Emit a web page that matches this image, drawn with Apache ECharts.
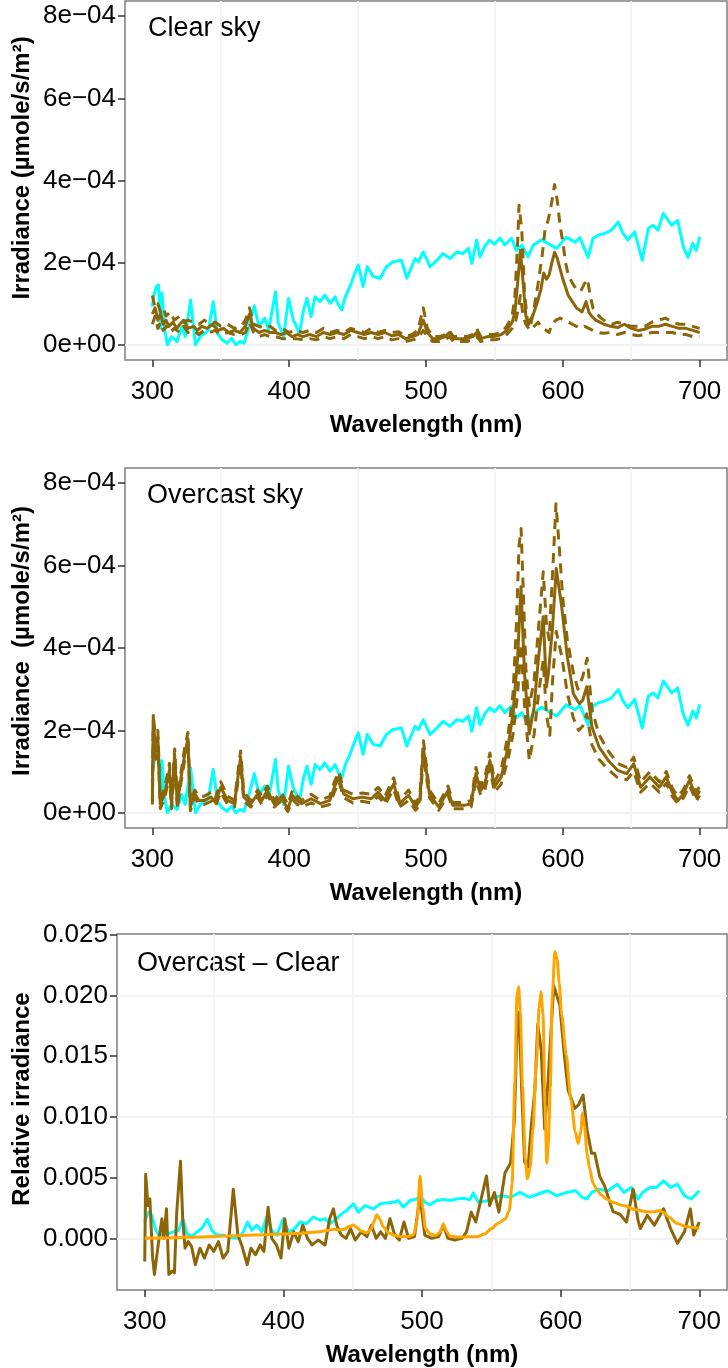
<!DOCTYPE html>
<html>
<head>
<meta charset="utf-8">
<script src="https://cdn.jsdelivr.net/npm/echarts@6/dist/echarts.min.js"></script>
<style>
  html, body { margin: 0; padding: 0; background: #ffffff; }
  #chart { width: 728px; height: 1368px; }
</style>
</head>
<body>
<div id="chart"></div>
<script>
// ---------------- DATA ----------------
// x: wavelength (nm). Irradiance values in units of 1e-4 µmole/s/m², relative values in units of 1e-3.
const xTicks = [300, 400, 500, 600, 700];
const irrTicks = [0, 2e-4, 4e-4, 6e-4, 8e-4];
const relTicks = [0, 0.005, 0.010, 0.015, 0.020, 0.025];
const IRR_UNIT = 1e-4;
const REL_UNIT = 1e-3;

// sky reference spectrum (cyan), panels 1 and 2
const skyRef = [[300,0.93],[301,1.2],[303,1.42],[304.5,1.46],[306,0.4],[307,1.26],[309,0.36],[311,0],[314,0.2],[318,0.08],[321.5,0.44],[324,0.2],[328,1.09],[331.5,0],[335,0.2],[338.5,0.28],[341,0.36],[344.5,1.05],[347.5,0.28],[351,0.12],[354.5,0.04],[358,0.16],[361,0],[364,0.08],[367,0.04],[370,0.36],[374.5,0.95],[378,0.44],[382,0.65],[385,0.36],[390,1.29],[392,0.53],[396,0.2],[399.5,1.13],[403,0.61],[407.5,0.28],[410.5,0.85],[413,1.13],[416,0.69],[419,1.17],[422.5,1.05],[426,1.21],[430,1.01],[433.5,1.17],[436,0.97],[438.5,0.85],[441,1.17],[444.5,1.42],[448,1.74],[450.5,1.94],[454,1.42],[457,1.9],[461.5,1.66],[466.5,1.62],[471,1.9],[476,2.02],[482,2.06],[486,1.62],[492,2.1],[494.5,2.02],[498,2.26],[503,1.9],[508,2.06],[512.5,2.22],[517.5,2.1],[522.5,2.26],[527,2.22],[531,2.35],[533.5,1.98],[537,2.55],[539.5,2.14],[543,2.4],[546.5,2.55],[550,2.45],[554,2.6],[557.5,2.43],[562.5,2.59],[566,2.3],[570,2.43],[574.5,2.14],[578.5,2.43],[584.5,2.56],[589,2.47],[595.5,2.35],[602.5,2.62],[609,2.5],[612.5,2.61],[618.5,2.13],[622,2.59],[626,2.67],[630.5,2.71],[635.5,2.79],[640.5,2.99],[644,2.71],[647.5,2.55],[652.5,2.75],[658,2.06],[662.5,2.83],[666,2.91],[669.5,2.79],[673.5,3.2],[679.5,2.91],[684,3.03],[688,2.39],[691.5,2.13],[695,2.47],[697.5,2.3],[700,2.63]];

// Clear sky: mean (solid), upper and lower (dashed)
const clearMean = [[300,0.75],[302,0.9],[304,0.6],[306,0.75],[308,0.5],[310,0.6],[312,0.45],[315,0.55],[318,0.4],[320,0.5],[323,0.6],[326,0.4],[330,0.45],[333,0.35],[336,0.45],[340,0.4],[344,0.5],[348,0.35],[352,0.4],[356,0.3],[360,0.35],[364,0.3],[368,0.45],[371,0.75],[374,0.4],[378,0.3],[382,0.35],[386,0.3],[390,0.3],[394,0.25],[398,0.3],[402,0.2],[406,0.25],[410,0.2],[415,0.25],[420,0.2],[425,0.3],[430,0.25],[435,0.3],[440,0.25],[445,0.35],[450,0.3],[455,0.25],[460,0.3],[465,0.25],[470,0.3],[475,0.22],[480,0.25],[485,0.15],[490,0.2],[494,0.25],[498,0.6],[501,0.3],[505,0.15],[510,0.15],[514,0.2],[517,0.3],[520,0.15],[525,0.15],[530,0.15],[534,0.2],[537,0.3],[540,0.15],[545,0.2],[550,0.2],[555,0.25],[559,0.35],[563,0.55],[565,0.8],[567,1.5],[569,2.3],[571,1.5],[573,0.7],[575,0.55],[578,0.7],[581,1.0],[584,1.35],[586,1.75],[588,1.6],[590,1.7],[592,2.0],[594,2.25],[596,2.1],[598,1.85],[600,1.6],[602,1.4],[604,1.2],[606,1.1],[608,1.0],[610,0.9],[612,0.85],[614,0.8],[617,1.05],[619,0.8],[621,0.7],[624,0.6],[627,0.55],[630,0.5],[635,0.45],[640,0.42],[645,0.5],[650,0.4],[655,0.35],[660,0.38],[665,0.45],[670,0.45],[675,0.5],[680,0.45],[685,0.4],[690,0.4],[695,0.35],[700,0.3]];
const clearHigh = [[300,1.2],[302,0.9],[304,1.0],[306,0.8],[308,0.9],[310,0.7],[313,0.8],[316,0.6],[320,0.7],[323,0.55],[326,0.6],[330,0.55],[334,0.5],[338,0.6],[342,0.5],[346,0.55],[350,0.45],[355,0.5],[360,0.4],[365,0.45],[368,0.6],[371,0.9],[374,0.5],[378,0.45],[382,0.4],[386,0.45],[390,0.35],[395,0.4],[400,0.3],[405,0.35],[410,0.3],[415,0.35],[420,0.3],[425,0.4],[430,0.3],[435,0.35],[440,0.3],[445,0.4],[450,0.35],[455,0.3],[460,0.4],[465,0.3],[470,0.35],[475,0.3],[480,0.32],[485,0.2],[490,0.25],[494,0.35],[498,0.9],[501,0.4],[505,0.2],[510,0.2],[514,0.25],[517,0.35],[520,0.2],[525,0.2],[530,0.2],[534,0.25],[537,0.4],[540,0.2],[545,0.25],[550,0.25],[555,0.3],[559,0.45],[563,0.7],[565,1.2],[567,2.5],[568,3.4],[570,2.8],[572,1.3],[574,0.6],[576,0.4],[579,0.9],[582,1.5],[585,2.2],[587,2.8],[589,3.0],[591,3.3],[594,3.9],[596,3.5],[598,2.9],[600,2.5],[602,2.0],[604,1.7],[607,1.5],[610,1.35],[613,1.3],[616,1.5],[618,1.6],[620,1.2],[622,0.9],[625,0.75],[628,0.65],[632,0.55],[636,0.5],[640,0.55],[645,0.5],[650,0.45],[655,0.45],[660,0.45],[665,0.55],[670,0.6],[675,0.65],[680,0.55],[685,0.5],[690,0.5],[695,0.45],[700,0.4]];
const clearLow = [[300,0.5],[302,0.7],[304,0.4],[306,0.55],[308,0.35],[310,0.45],[313,0.3],[316,0.4],[320,0.3],[323,0.45],[326,0.3],[330,0.35],[334,0.25],[338,0.35],[342,0.3],[346,0.35],[350,0.25],[355,0.3],[360,0.25],[365,0.25],[368,0.3],[371,0.55],[374,0.3],[378,0.2],[382,0.25],[386,0.2],[390,0.2],[395,0.15],[400,0.15],[405,0.15],[410,0.12],[415,0.15],[420,0.12],[425,0.2],[430,0.15],[435,0.2],[440,0.15],[445,0.25],[450,0.2],[455,0.15],[460,0.2],[465,0.15],[470,0.2],[475,0.12],[480,0.15],[485,0.08],[490,0.12],[494,0.15],[498,0.35],[501,0.2],[505,0.08],[510,0.08],[514,0.12],[517,0.2],[520,0.08],[525,0.08],[530,0.08],[534,0.12],[537,0.2],[540,0.08],[545,0.12],[550,0.12],[555,0.15],[559,0.25],[563,0.4],[565,0.5],[567,0.8],[569,1.2],[571,0.7],[573,0.5],[576,0.35],[579,0.45],[582,0.55],[585,0.4],[588,0.35],[590,0.3],[592,0.5],[595,0.6],[598,0.65],[601,0.6],[604,0.55],[607,0.5],[610,0.45],[613,0.4],[616,0.45],[619,0.4],[622,0.35],[626,0.3],[630,0.28],[635,0.3],[640,0.25],[645,0.3],[650,0.25],[655,0.22],[660,0.25],[665,0.3],[670,0.3],[675,0.3],[680,0.3],[685,0.25],[690,0.25],[695,0.2],[700,0.2]];

// Overcast sky: mean (solid), upper and lower (dashed)
const overMean = [[300,0.3],[300.7,2.25],[302.4,1.5],[304,1.84],[305.8,0.2],[309,0.46],[312.5,1.03],[314,0.2],[316.3,1.4],[318.3,0.2],[321,0.87],[323.7,1.43],[326,1.8],[327.8,0.14],[331,0.46],[334,0.3],[338,0.3],[343,0.38],[346,0.25],[350,0.62],[355,0.3],[360,0.22],[364.5,1.35],[366.8,0.38],[372,0.22],[377,0.46],[380,0.3],[384,0.54],[389,0.22],[394,0.38],[399,0.1],[402.5,0.42],[406,0.3],[409,0.22],[416,0.34],[422.8,0.22],[429.6,0.3],[433,0.62],[436.4,0.87],[439.8,0.46],[446.6,0.34],[453.4,0.38],[460,0.34],[465,0.5],[470,0.3],[476.4,0.7],[480.5,0.22],[487.3,0.42],[492.4,0.14],[495.5,0.3],[498.1,1.56],[502.5,0.46],[509.3,0.14],[516.1,0.54],[519.5,0.18],[528,0.18],[533,0.22],[536.5,0.95],[540,0.54],[543,0.7],[546.7,1.27],[550,0.62],[555,0.87],[560,1.6],[563.6,2.41],[567,3.78],[569.4,5.49],[572,3.38],[575.5,1.92],[579,2.57],[582.3,3.78],[585.7,4.76],[588,3.06],[589.5,3.4],[592.5,4.51],[595.2,5.93],[599.2,5.0],[603.3,3.78],[607.7,2.89],[612,2.65],[614.5,2.73],[617.5,3.06],[621.3,2.08],[626.4,1.6],[633.2,1.27],[640,1.03],[646.7,0.95],[651.8,1.19],[656.9,0.62],[663.7,0.87],[670.5,0.62],[675.6,0.87],[680,0.5],[684.1,0.3],[688,0.45],[692.6,0.79],[697.6,0.38],[700,0.54]];
const overHigh = [[300,0.5],[300.7,2.4],[302.4,1.7],[304,2.0],[305.8,0.35],[309,0.6],[312.5,1.2],[314,0.3],[316.3,1.55],[318.3,0.3],[321,1.0],[323.7,1.6],[326,1.95],[327.8,0.25],[331,0.55],[334,0.4],[338,0.4],[343,0.5],[346,0.35],[350,0.75],[355,0.4],[360,0.3],[364.5,1.5],[366.8,0.5],[372,0.3],[377,0.55],[380,0.4],[384,0.65],[389,0.3],[394,0.5],[399,0.2],[402.5,0.55],[406,0.4],[409,0.3],[416,0.45],[422.8,0.3],[429.6,0.4],[433,0.75],[436.4,1.0],[439.8,0.55],[446.6,0.45],[453.4,0.48],[460,0.45],[465,0.62],[470,0.4],[476.4,0.85],[480.5,0.3],[487.3,0.55],[492.4,0.22],[495.5,0.4],[498.1,1.75],[502.5,0.55],[509.3,0.22],[516.1,0.65],[519.5,0.25],[528,0.25],[533,0.3],[536.5,1.1],[540,0.65],[543,0.85],[546.7,1.45],[550,0.75],[555,1.05],[560,1.9],[563.6,2.9],[566,4.5],[568,6.5],[569.5,6.9],[571,5.5],[573,3.5],[575.5,2.6],[579,3.2],[582.3,4.5],[585.7,5.85],[588,4.6],[590,4.2],[592.5,5.8],[595,7.5],[597.5,6.4],[600,5.2],[603.3,4.2],[607.7,3.4],[611,3.0],[614.5,3.3],[617.8,3.75],[621.3,2.5],[626.4,1.9],[633.2,1.5],[640,1.2],[646.7,1.1],[651.8,1.35],[656.9,0.75],[663.7,1.0],[670.5,0.75],[675.6,1.0],[680,0.6],[684.1,0.4],[688,0.55],[692.6,0.9],[697.6,0.5],[700,0.65]];
const overLow = [[300,0.2],[300.7,2.1],[302.4,1.3],[304,1.65],[305.8,0.1],[309,0.35],[312.5,0.9],[314,0.1],[316.3,1.25],[318.3,0.1],[321,0.75],[323.7,1.3],[326,1.65],[327.8,0.05],[331,0.38],[334,0.2],[338,0.2],[343,0.28],[346,0.15],[350,0.5],[355,0.2],[360,0.14],[364.5,1.2],[366.8,0.28],[372,0.14],[377,0.37],[380,0.2],[384,0.43],[389,0.14],[394,0.28],[399,0.03],[402.5,0.32],[406,0.2],[409,0.14],[416,0.24],[422.8,0.14],[429.6,0.2],[433,0.5],[436.4,0.75],[439.8,0.37],[446.6,0.24],[453.4,0.28],[460,0.24],[465,0.4],[470,0.2],[476.4,0.57],[480.5,0.14],[487.3,0.3],[492.4,0.06],[495.5,0.2],[498.1,1.38],[502.5,0.37],[509.3,0.06],[516.1,0.43],[519.5,0.1],[528,0.1],[533,0.14],[536.5,0.8],[540,0.43],[543,0.55],[546.7,1.1],[550,0.5],[555,0.7],[560,1.3],[563.6,1.9],[567,2.9],[569.4,4.1],[572,2.6],[575.5,1.27],[579,1.9],[582.3,2.9],[585.7,3.7],[588,2.4],[590.5,1.88],[592.5,3.2],[595.2,4.4],[599.2,3.8],[603.3,2.9],[607.7,2.3],[611.5,2.0],[614.5,2.1],[617.5,2.4],[621.3,1.65],[626.4,1.3],[633.2,1.05],[640,0.85],[646.7,0.8],[651.8,1.0],[656.9,0.5],[663.7,0.72],[670.5,0.5],[675.6,0.72],[680,0.4],[684.1,0.22],[688,0.35],[692.6,0.66],[697.6,0.28],[700,0.42]];

// Overcast − Clear (relative irradiance, units of 1e-3)
const diffRel = [[300,-1.9],[300.7,5.27],[302.3,2.7],[303.7,3.24],[305.7,-1.6],[307,-2.97],[309.7,-0.54],[312.4,1.62],[313.7,0],[315.7,2.43],[317.4,-2.97],[319.7,-2.7],[321.4,-2.84],[323.1,2.16],[325.8,6.35],[327.4,1.62],[329.1,-0.81],[331.4,-0.27],[333.8,-0.68],[336.5,-2.16],[339.8,-0.81],[343.1,-1.62],[346.5,-0.54],[349.8,-1.08],[353.2,-0.27],[356.5,-1.62],[359.9,-1.08],[363.9,4.05],[367.2,0.27],[369.9,-0.54],[373.9,-2.16],[376.6,-0.81],[379.9,-1.35],[383.3,-0.54],[386,-1.08],[389,2.57],[391.6,0],[395,-0.54],[398.3,-1.62],[401,1.62],[404,-0.81],[407.4,0.54],[410.7,-0.27],[414,1.08],[417.4,0],[420.7,-0.54],[425.1,-0.14],[430.1,-0.54],[433.4,1.62],[436.1,2.43],[438.5,1.08],[441.8,0.27],[445.2,0],[448.5,0.81],[451.8,-0.14],[456.2,0.54],[460.2,0.14],[463.5,1.08],[466.9,0],[470.2,0.54],[473.6,0],[476.9,1.62],[480.3,0.27],[483.6,-0.14],[487,1.35],[490.3,0],[494.6,0.14],[498.5,3.5],[502,0.27],[507,0],[512,0.14],[515.4,1.08],[518.7,0],[523.7,-0.14],[528.8,0],[532.1,0.54],[535.5,2.16],[538.8,1.35],[542.1,2.97],[546.5,5.14],[548.8,2.7],[552.2,3.78],[555.5,2.16],[559.9,5.41],[563.9,6.2],[566.6,9.7],[568.5,17],[570,18.6],[572,12],[574,6.3],[576.5,5.9],[579,9.45],[581.4,12.2],[583.5,17.6],[586,15.5],[588.5,9],[591,13],[595,20.8],[599.4,19.2],[602.3,15.5],[605.4,12.2],[610.2,10.7],[613,11],[616.2,11.8],[619.1,8.9],[622.3,7.0],[624.6,7.0],[628.2,5.1],[631.8,4.3],[634,3.5],[637.8,2.2],[642.6,2.0],[647.5,1.35],[652.3,4.05],[655.8,1.5],[657.5,0.81],[662.5,1.89],[667.6,1.08],[674.2,2.43],[679.3,0.81],[684.3,-0.41],[689.3,0.54],[693.6,2.43],[696,0.27],[700,1.35]];
const skyRel = [[300,1.35],[301,1.7],[302.8,2.16],[305.2,1.89],[307.6,0.81],[310,0.27],[313.6,0.3],[317.2,0.4],[320.8,0.54],[324.4,0.67],[327.5,1.62],[330.4,0.4],[334,0.13],[337.6,0.54],[341.2,0.81],[345.2,1.57],[348.4,0.67],[352,0.27],[356.8,0.27],[360.4,0.13],[364,0.05],[367.6,0],[371.2,0.54],[374.1,1.35],[377.2,0.67],[380.8,1.08],[384.4,0.54],[388,1.76],[391.6,0.67],[395.2,0.27],[400,1.62],[403.6,0.54],[407.2,0.67],[412,1.35],[416.8,1.22],[421.6,1.76],[426.4,1.49],[430,1.62],[433.6,1.22],[438.5,1.62],[442.1,2.03],[445.7,2.3],[450.5,2.84],[454.1,2.16],[458.9,2.7],[464.9,2.43],[469.7,2.84],[474.5,2.92],[479.3,2.97],[482.9,3.11],[486.5,2.57],[491.3,3.11],[496.2,3.24],[498.6,3.51],[502.2,2.97],[505.8,2.76],[510.6,3.11],[515.4,3.19],[520.2,3.11],[525,3.24],[529.8,3.3],[534.6,3.19],[537,3.73],[540.6,2.97],[547.2,3.1],[552,3.4],[557.2,3.5],[563.9,3.38],[570.6,3.78],[577.3,3.38],[583.9,3.65],[590.6,3.92],[597.3,3.5],[604,3.78],[610.7,3.92],[615.7,3.38],[619,3.24],[622.4,3.78],[627.4,4.05],[634.1,3.92],[640.8,4.46],[645.8,3.78],[650.8,4.19],[655.9,3.24],[659.2,3.78],[664.2,4.19],[669.2,4.19],[674.2,4.73],[679.3,4.19],[684.3,4.46],[689.3,3.5],[694.3,3.24],[697.7,3.65],[700,3.92]];
const lampRel = [[300,0],[320,0.05],[340,0.12],[360,0.2],[380,0.28],[400,0.35],[415,0.45],[426,0.55],[432,0.65],[436,0.75],[440,0.7],[444,0.75],[447,0.95],[450.5,1.1],[453,0.9],[456,0.6],[460,0.45],[463,0.7],[465.5,1.4],[467.4,1.95],[469.5,1.6],[472,0.95],[476,0.45],[480,0.25],[485,0.15],[490,0.15],[494,0.3],[496.5,1.5],[498.6,5.13],[500.5,2.5],[502.5,0.8],[506,0.35],[510,0.25],[513,0.5],[515.4,1.2],[517.5,0.6],[520,0.2],[525,0.12],[530,0.12],[540,0.14],[545,0.35],[550,0.8],[555,1.25],[560,1.6],[563,2.3],[565,4.5],[567,13],[568.5,20],[569.7,20.7],[571,18.5],[572.5,12.5],[574.5,6.5],[576,4.9],[578,5.8],[580,9],[582.5,14.5],[584.5,19],[585.8,20.3],[587.3,18.4],[588.7,11],[590,6.2],[591.3,8],[592.5,12.4],[594,20],[595.8,23.6],[597.5,23],[599,21],[600.7,18.4],[604,15.1],[607.4,11.4],[610.5,8.8],[612.6,7.8],[614.5,8.8],[615.8,10.3],[617.3,9.2],[619,7],[621,5.7],[623.4,4.5],[626,4.05],[629,3.6],[633,3.24],[638,2.95],[645,2.7],[654,2.35],[664,2.16],[668,2.2],[671,2.3],[674,2.15],[678,1.76],[684,1.22],[691,0.95],[700,0.81]];

const panelLabels = ['Clear sky', 'Overcast sky', 'Overcast \u2013 Clear'];
const yTitles = ['Irradiance (\u00b5mole/s/m\u00b2)', 'Irradiance  (\u00b5mole/s/m\u00b2)', 'Relative irradiance'];
const xTitle = 'Wavelength (nm)';

// ---------------- CHART ----------------
const FONT = '"Liberation Sans", Arial, Helvetica, sans-serif';
const BROWN = '#8B6508', CYAN = '#00FFFF', ORANGE = '#FFA500';
const LW = 3;
const scale = (arr, k) => arr.map(p => [p[0], p[1] * k]);

const grids = [
  { left: 125, top: 1, width: 602, height: 359 },
  { left: 125, top: 468, width: 602, height: 360 },
  { left: 117, top: 934, width: 610, height: 362 }
].map(g => Object.assign(g, { show: true, borderColor: '#7f7f7f', borderWidth: 1.5, backgroundColor: '#ffffff', containLabel: false }));

function makeX(i) {
  return {
    type: 'value', gridIndex: i, min: 280, max: 720, position: 'bottom',
    axisLine: { show: false, onZero: false },
    splitLine: { show: false },
    axisTick: { show: true, length: 7, lineStyle: { color: '#333333', width: 1.5 }, customValues: xTicks },
    axisLabel: { customValues: xTicks, color: '#000', fontSize: 26, fontFamily: FONT, margin: 19 },
    name: xTitle, nameLocation: 'middle', nameGap: 53,
    nameTextStyle: { color: '#000', fontSize: 24, fontWeight: 'bold', fontFamily: FONT }
  };
}
function makeY(i, min, max, ticks, fmt) {
  return {
    type: 'value', gridIndex: i, min: min, max: max, position: 'left',
    axisLine: { show: false, onZero: false },
    splitLine: { show: false },
    axisTick: { show: true, length: 7, lineStyle: { color: '#333333', width: 1.5 }, customValues: ticks },
    axisLabel: { customValues: ticks, color: '#000', fontSize: 26, fontFamily: FONT, margin: 9, formatter: fmt }
  };
}
const irrFmt = v => { const m = Math.round(v / IRR_UNIT); return m === 0 ? '0e+00' : m + 'e\u221204'; };
const relFmt = v => v.toFixed(3);

const GRIDCOL = '#f2f2f2';
function gridLines(xs, ys) {
  return {
    silent: true, symbol: 'none', animation: false, z: 1,
    label: { show: false },
    lineStyle: { color: GRIDCOL, width: 1.5, type: 'solid' },
    emphasis: { disabled: true },
    data: xs.map(v => ({ xAxis: v })).concat(ys.map(v => ({ yAxis: v })))
  };
}
function line(name, i, data, color, dashed, extra) {
  return Object.assign({
    name: name, type: 'line', xAxisIndex: i, yAxisIndex: i, data: data,
    showSymbol: false, symbol: 'none', z: 10,
    lineStyle: { color: color, width: LW, type: dashed ? [10, 7] : 'solid', cap: 'butt', join: 'round' },
    itemStyle: { color: color }, emphasis: { disabled: true }
  }, extra || {});
}
const minorX = [350, 450, 550, 650];

const option = {
  animation: false,
  backgroundColor: '#ffffff',
  grid: grids,
  xAxis: [makeX(0), makeX(1), makeX(2)],
  yAxis: [
    makeY(0, -0.37e-4, 8.37e-4, irrTicks, irrFmt),
    makeY(1, -0.37e-4, 8.37e-4, irrTicks, irrFmt),
    makeY(2, -0.00425, 0.02505, relTicks, relFmt)
  ],
  series: [
    line('Sky (clear)', 0, scale(skyRef, IRR_UNIT), CYAN, false, { markLine: gridLines(minorX, [1e-4, 3e-4, 5e-4, 7e-4]) }),
    line('Clear high', 0, scale(clearHigh, IRR_UNIT), BROWN, true),
    line('Clear low', 0, scale(clearLow, IRR_UNIT), BROWN, true),
    line('Clear mean', 0, scale(clearMean, IRR_UNIT), BROWN, false),

    line('Sky (overcast)', 1, scale(skyRef, IRR_UNIT), CYAN, false, { markLine: gridLines(minorX, [1e-4, 3e-4, 5e-4, 7e-4]) }),
    line('Overcast high', 1, scale(overHigh, IRR_UNIT), BROWN, true),
    line('Overcast low', 1, scale(overLow, IRR_UNIT), BROWN, true),
    line('Overcast mean', 1, scale(overMean, IRR_UNIT), BROWN, false),

    line('Sky relative', 2, scale(skyRel, REL_UNIT), CYAN, false, { markLine: gridLines(minorX, [-0.0025, 0.0025, 0.0075, 0.0125, 0.0175, 0.0225]) }),
    line('Overcast - Clear', 2, scale(diffRel, REL_UNIT), BROWN, false),
    line('Lamp', 2, scale(lampRel, REL_UNIT), ORANGE, false, { smooth: 0.25, smoothMonotone: 'x' })
  ],
  graphic: [
    { type: 'text', x: 148, y: 29, style: { text: panelLabels[0], fontSize: 27, fontFamily: FONT, fill: '#000', verticalAlign: 'middle' } },
    { type: 'text', x: 147, y: 496, style: { text: panelLabels[1], fontSize: 27, fontFamily: FONT, fill: '#000', verticalAlign: 'middle' } },
    { type: 'text', x: 137, y: 964, style: { text: panelLabels[2], fontSize: 27, fontFamily: FONT, fill: '#000', verticalAlign: 'middle' } },
    { type: 'text', x: 22, y: 168, rotation: Math.PI / 2, style: { text: yTitles[0], fontSize: 24, fontWeight: 'bold', fontFamily: FONT, fill: '#000', align: 'center', verticalAlign: 'middle' } },
    { type: 'text', x: 22, y: 641, rotation: Math.PI / 2, style: { text: yTitles[1], fontSize: 24, fontWeight: 'bold', fontFamily: FONT, fill: '#000', align: 'center', verticalAlign: 'middle' } },
    { type: 'text', x: 22, y: 1099, rotation: Math.PI / 2, style: { text: yTitles[2], fontSize: 24, fontWeight: 'bold', fontFamily: FONT, fill: '#000', align: 'center', verticalAlign: 'middle' } }
  ]
};

const chart = echarts.init(document.getElementById('chart'), null, { renderer: 'canvas', width: 728, height: 1368 });
chart.setOption(option);
</script>
</body>
</html>
